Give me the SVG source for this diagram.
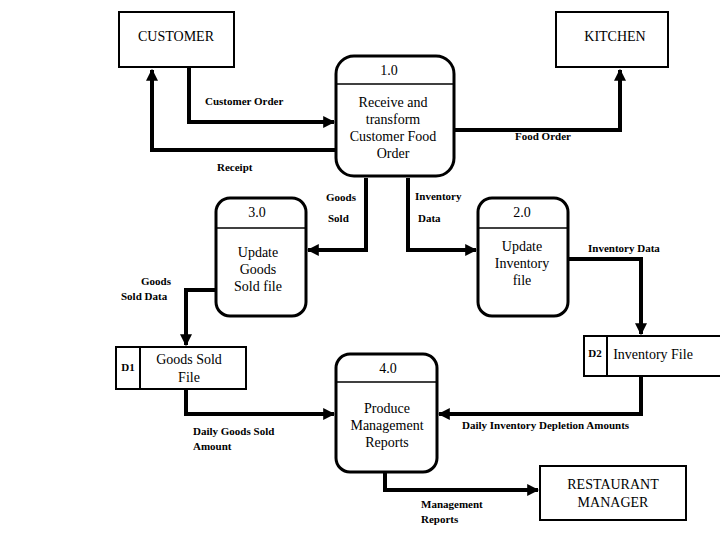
<svg xmlns="http://www.w3.org/2000/svg" width="720" height="540" viewBox="0 0 720 540">
<style>
.b{fill:#fff;stroke:#000;stroke-width:2}
.p{fill:#fff;stroke:#000;stroke-width:3}
.t{font-family:'Liberation Serif','Times New Roman','DejaVu Serif',serif;font-size:14px;text-anchor:middle}
.l{font-family:'Liberation Serif','Times New Roman','DejaVu Serif',serif;font-size:11px;font-weight:bold}
.c{fill:none;stroke:#000;stroke-width:4}
</style>
<defs><marker id="a" viewBox="0 0 10 10" refX="9" refY="5" markerWidth="3" markerHeight="3" orient="auto"><path d="M0,0L10,5L0,10z"/></marker></defs>
<rect width="720" height="540" fill="#fff"/>
<g id="connectors">
<path class="c" d="M189,68V122H334" marker-end="url(#a)"/>
<path class="c" d="M336,150H152V70" marker-end="url(#a)"/>
<path class="c" d="M454,130H620V70" marker-end="url(#a)"/>
<path class="c" d="M366,178V250H308" marker-end="url(#a)"/>
<path class="c" d="M408,178V250H476" marker-end="url(#a)"/>
<path class="c" d="M568,259H641V334" marker-end="url(#a)"/>
<path class="c" d="M216,290H186V345" marker-end="url(#a)"/>
<path class="c" d="M186,390V414H334" marker-end="url(#a)"/>
<path class="c" d="M641,377V414H439" marker-end="url(#a)"/>
<path class="c" d="M385,472V490H538" marker-end="url(#a)"/>
<text class="l" x="205" y="105">Customer Order</text>
<text class="l" x="217" y="171">Receipt</text>
<text class="l" x="515" y="140">Food Order</text>
<text class="l" x="326" y="201">Goods</text>
<text class="l" x="328" y="222">Sold</text>
<text class="l" x="415" y="200">Inventory</text>
<text class="l" x="418" y="222">Data</text>
<text class="l" x="588" y="252">Inventory Data</text>
<text class="l" x="141" y="285">Goods</text>
<text class="l" x="121" y="300">Sold Data</text>
<text class="l" x="193" y="435">Daily Goods Sold</text>
<text class="l" x="193" y="450">Amount</text>
<text class="l" x="462" y="429">Daily Inventory Depletion Amounts</text>
<text class="l" x="421" y="508">Management</text>
<text class="l" x="421" y="523">Reports</text>
</g>
<g id="customer"><rect class="b" x="119" y="12" width="115" height="55"/><text class="t" x="176" y="41">CUSTOMER</text></g>
<g id="kitchen"><rect class="b" x="556" y="12" width="112" height="55"/><text class="t" x="615" y="41">KITCHEN</text></g>
<g id="p1"><rect class="p" x="336" y="56" width="118" height="120" rx="18"/><line x1="336" y1="84" x2="454" y2="84" stroke="#000" stroke-width="1.5"/><text class="t" x="389" y="75">1.0</text><text class="t" x="393" y="107">Receive and</text><text class="t" x="393" y="124">transform</text><text class="t" x="393" y="141">Customer Food</text><text class="t" x="393" y="158">Order</text></g>
<g id="p3"><rect class="p" x="216" y="198" width="90" height="118" rx="14"/><line x1="216" y1="228" x2="306" y2="228" stroke="#000" stroke-width="1.5"/><text class="t" x="257" y="217">3.0</text><text class="t" x="258" y="257">Update</text><text class="t" x="258" y="274">Goods</text><text class="t" x="258" y="291">Sold file</text></g>
<g id="p2"><rect class="p" x="478" y="198" width="90" height="118" rx="14"/><line x1="478" y1="228" x2="568" y2="228" stroke="#000" stroke-width="1.5"/><text class="t" x="522" y="217">2.0</text><text class="t" x="522" y="251">Update</text><text class="t" x="522" y="268">Inventory</text><text class="t" x="522" y="285">file</text></g>
<g id="p4"><rect class="p" x="336" y="354" width="101" height="118" rx="14"/><line x1="336" y1="382" x2="437" y2="382" stroke="#000" stroke-width="1.5"/><text class="t" x="388" y="373">4.0</text><text class="t" x="387" y="413">Produce</text><text class="t" x="387" y="430">Management</text><text class="t" x="387" y="447">Reports</text></g>
<g id="d1"><rect class="b" x="116" y="347" width="130" height="42"/><line x1="140" y1="347" x2="140" y2="389" stroke="#000" stroke-width="2"/><text class="l" x="128" y="371" text-anchor="middle">D1</text><text class="t" x="189" y="364">Goods Sold</text><text class="t" x="189" y="382">File</text></g>
<g id="d2"><rect class="b" x="584" y="336" width="140" height="40"/><line x1="607" y1="336" x2="607" y2="376" stroke="#000" stroke-width="2"/><text class="l" x="595" y="357" text-anchor="middle">D2</text><text class="t" x="653" y="359">Inventory File</text></g>
<g id="manager"><rect class="b" x="540" y="466" width="146" height="54"/><text class="t" x="613" y="489">RESTAURANT</text><text class="t" x="613" y="507">MANAGER</text></g>
</svg>
